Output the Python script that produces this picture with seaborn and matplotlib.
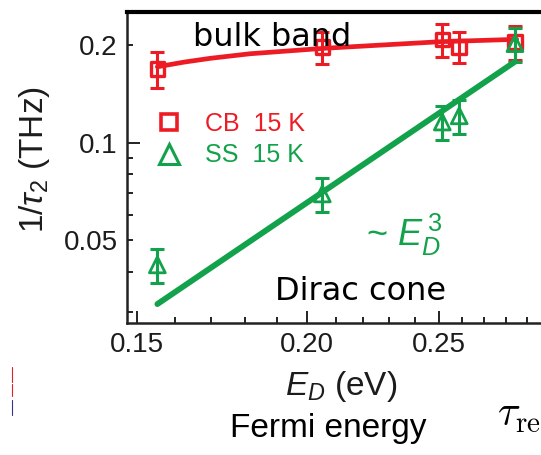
import matplotlib
matplotlib.use("Agg")
import matplotlib.pyplot as plt
import seaborn as sns
from matplotlib.ticker import FixedLocator, FixedFormatter, NullFormatter
from matplotlib.lines import Line2D

# ---- data -------------------------------------------------------------
# conduction band (CB) scattering rate, 15 K
ed_cb = [0.1553, 0.2053, 0.2515, 0.2588, 0.2844]
rate_cb = [0.169, 0.197, 0.208, 0.1976, 0.204]
err_cb = [0.0215, 0.0217, 0.024, 0.022, 0.0245]

# surface state (SS) scattering rate, 15 K
ed_ss = [0.1553, 0.2053, 0.2515, 0.2588, 0.2844]
rate_ss = [0.042, 0.0695, 0.1158, 0.121, 0.202]
err_ss = [0.005, 0.0082, 0.0139, 0.0143, 0.0243]

# guide curve through the bulk-band points
cb_fit_x = [0.1553, 0.1625, 0.1698, 0.1816, 0.2057, 0.2506, 0.2852]
cb_fit_y = [0.1714, 0.1772, 0.1820, 0.1880, 0.1954, 0.2048, 0.2083]

# ~E_D^3 line for the Dirac cone
ss_fit_x = [0.1553, 0.2844]
ss_fit_y = [0.0318, 0.1777]

x_major = [0.15, 0.20, 0.25]
x_major_labels = ["0.15", "0.20", "0.25"]
x_minor = [0.16, 0.17, 0.18, 0.19, 0.21, 0.22, 0.23, 0.24, 0.26, 0.27, 0.28, 0.29]
y_major = [0.1]
y_major_labels = ["0.1"]
y_minor = [0.03, 0.04, 0.05, 0.06, 0.07, 0.08, 0.09, 0.2]
y_minor_labels = ["", "", "0.05", "", "", "", "", "0.2"]

legend_labels = ["CB  15 K", "SS  15 K"]

RED = "#ED1C24"
GREEN = "#12A24B"
INK = "#1c1c1c"

# ---- style ------------------------------------------------------------
sns.set_theme(style="ticks")
plt.rcParams["font.family"] = ["Liberation Sans", "DejaVu Sans"]
plt.rcParams["mathtext.fontset"] = "custom"
plt.rcParams["mathtext.rm"] = "Liberation Sans"
plt.rcParams["mathtext.it"] = "Liberation Sans:italic"

W, H = 541, 455
fig = plt.figure(figsize=(W / 100, H / 100), dpi=100)


def fx(px):
    return px / W


def fy(py):
    return 1 - py / H


left, right, top, bottom = 127.3, 541, 12, 322.5
ax = fig.add_axes([fx(left), fy(bottom), fx(right - left), (bottom - top) / H])
ax.set_xscale("log")
ax.set_yscale("log")
ax.set_xlim(0.1476, 0.2972)
ax.set_ylim(0.0279, 0.2529)

# ---- marks ------------------------------------------------------------
sns.lineplot(x=cb_fit_x, y=cb_fit_y, color=RED, lw=3.4, sort=False,
             estimator=None, ax=ax, zorder=2)
ax.errorbar(ed_cb, rate_cb, yerr=err_cb, fmt="none", ecolor=RED,
            elinewidth=2.2, capsize=5, capthick=2.2, zorder=3)
sns.scatterplot(x=ed_cb, y=rate_cb, marker="s", s=95, facecolor="none",
                edgecolor=RED, linewidth=2.4, ax=ax, zorder=4)

sns.lineplot(x=ss_fit_x, y=ss_fit_y, color=GREEN, lw=4.2, sort=False,
             estimator=None, ax=ax, zorder=5)
ax.errorbar(ed_ss, rate_ss, yerr=err_ss, fmt="none", ecolor=GREEN,
            elinewidth=2.2, capsize=5, capthick=2.2, zorder=6)
sns.scatterplot(x=ed_ss, y=rate_ss, marker="^", s=130, facecolor="none",
                edgecolor=GREEN, linewidth=2.0, ax=ax, zorder=7)

# ---- axes -------------------------------------------------------------
ax.xaxis.set_major_locator(FixedLocator(x_major))
ax.xaxis.set_major_formatter(FixedFormatter(x_major_labels))
ax.xaxis.set_minor_locator(FixedLocator(x_minor))
ax.xaxis.set_minor_formatter(NullFormatter())
ax.yaxis.set_major_locator(FixedLocator(y_major))
ax.yaxis.set_major_formatter(FixedFormatter(y_major_labels))
ax.yaxis.set_minor_locator(FixedLocator(y_minor))
ax.yaxis.set_minor_formatter(FixedFormatter(y_minor_labels))

ax.tick_params(which="both", direction="in", width=1.4, color="#222222",
               labelcolor=INK, labelsize=20, pad=7)
ax.tick_params(which="major", length=9)
ax.tick_params(which="minor", length=4.5)

for side in ("left", "bottom"):
    ax.spines[side].set_color("#222222")
    ax.spines[side].set_linewidth(1.8)
ax.spines["top"].set_color("black")
ax.spines["top"].set_linewidth(3)
ax.spines["right"].set_visible(False)
ax.set_xlabel("")
ax.set_ylabel("")

# ---- legend -----------------------------------------------------------
handles = [
    Line2D([], [], ls="none", marker="s", ms=11, mfc="none", mec=RED, mew=2.6),
    Line2D([], [], ls="none", marker="^", ms=14, mfc="none", mec=GREEN, mew=2.2),
]
leg = ax.legend(handles, legend_labels, loc="upper left",
                bbox_to_anchor=(fx(156.5), fy(112)),
                bbox_transform=fig.transFigure, frameon=False, fontsize=18,
                handlelength=1.0, handletextpad=0.95, labelspacing=0.3,
                borderpad=0, borderaxespad=0)
for txt, col in zip(leg.get_texts(), (RED, GREEN)):
    txt.set_color(col)

# ---- annotations --------------------------------------------------------
fig.text(fx(193), fy(46.5), "bulk band", fontsize=23, family="DejaVu Sans",
         color="black", va="baseline")
fig.text(fx(275), fy(300), "Dirac cone", fontsize=23, family="DejaVu Sans",
         color="black", va="baseline")
fig.text(fx(366), fy(246), r"~ $E_D^{\,3}$", fontsize=26, color=GREEN,
         va="baseline")

fig.text(fx(35), fy(160), r"1/$\tau_2$ (THz)", rotation=90, ha="center",
         va="center", fontsize=24, color=INK)
fig.text(fx(285), fy(395), r"$E_D$ (eV)", fontsize=24, color=INK,
         va="baseline")
fig.text(fx(230), fy(437), "Fermi energy", fontsize=24, color="black",
         va="baseline")
fig.text(fx(497), fy(426), r"$\tau_{\mathrm{re}}$", fontsize=30,
         math_fontfamily="cm", color="black", va="baseline")

# small coloured markers at the left margin
for y0, y1, col in ((367, 382, "#e0202c"), (384, 396, "#e0202c"),
                    (400, 415, "#33338f")):
    fig.add_artist(Line2D([fx(12.3), fx(12.3)], [fy(y0), fy(y1)],
                          transform=fig.transFigure, color=col, lw=0.8))

fig.savefig("out.png", dpi=100)
